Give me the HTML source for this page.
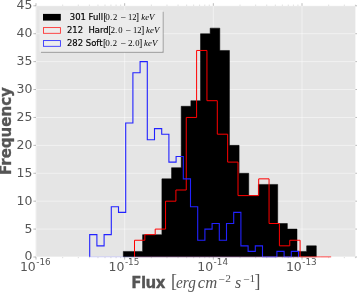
<!DOCTYPE html>
<html lang="en"><head><meta charset="utf-8"><title>Flux histogram</title>
<style>html,body{margin:0;padding:0;background:#fff;}svg{display:block;}text{font-family:"DejaVu Sans","Liberation Sans",sans-serif;}.tk{font-size:12.45px;fill:#555;}.sup{font-size:8.85px;fill:#555;}.lb{font-size:15px;font-weight:bold;fill:#555;stroke:#555;stroke-width:0.3px;}.m{font-family:"Liberation Serif","DejaVu Serif",serif;}.mi{font-family:"Liberation Serif","DejaVu Serif",serif;font-style:italic;}.lg{font-size:8.45px;fill:#000;stroke:#000;stroke-width:0.18px;}</style></head><body>
<svg width="357" height="292" viewBox="0 0 357 292">
<rect x="0" y="0" width="357" height="292" fill="#fff"/>
<rect x="35.6" y="5.8" width="319.8" height="251.2" fill="#e5e5e5"/>
<path d="M36.0,257 H355.4 M36.0,229.09 H355.4 M36.0,201.18 H355.4 M36.0,173.27 H355.4 M36.0,145.36 H355.4 M36.0,117.44 H355.4 M36.0,89.53 H355.4 M36.0,61.62 H355.4 M36.0,33.71 H355.4 M36.0,5.8 H355.4 M36,5.8 V257.0 M124.67,5.8 V257.0 M213.34,5.8 V257.0 M302.01,5.8 V257.0" stroke="#fff" stroke-width="0.65" fill="none" opacity="0.75"/>
<path d="M123.3,257 L123.3,251.42 L132.95,251.42 L132.95,251.42 L142.6,251.42 L142.6,234.67 L152.25,234.67 L152.25,234.67 L161.9,234.67 L161.9,178.85 L171.55,178.85 L171.55,167.68 L181.2,167.68 L181.2,106.28 L190.85,106.28 L190.85,100.7 L200.5,100.7 L200.5,33.71 L210.15,33.71 L210.15,28.13 L219.8,28.13 L219.8,50.46 L229.45,50.46 L229.45,145.36 L239.1,145.36 L239.1,173.27 L248.75,173.27 L248.75,195.6 L258.4,195.6 L258.4,184.43 L268.05,184.43 L268.05,184.43 L277.7,184.43 L277.7,223.51 L287.35,223.51 L287.35,229.09 L297,229.09 L297,251.42 L306.65,251.42 L306.65,245.84 L316.3,245.84 L316.3,257 Z" fill="#000" stroke="#000" stroke-width="0.5"/>
<path d="M134.5,257 L134.5,240.25 L144.85,240.25 L144.85,234.67 L155.2,234.67 L155.2,229.09 L165.55,229.09 L165.55,201.18 L175.9,201.18 L175.9,190.01 L186.25,190.01 L186.25,117.44 L196.6,117.44 L196.6,50.46 L206.95,50.46 L206.95,100.7 L217.3,100.7 L217.3,134.19 L227.65,134.19 L227.65,162.1 L238,162.1 L238,195.6 L248.35,195.6 L248.35,195.6 L258.7,195.6 L258.7,178.85 L269.05,178.85 L269.05,223.51 L279.4,223.51 L279.4,245.84 L289.75,245.84 L289.75,240.25 L300.1,240.25 L300.1,257 L310.45,257 L310.45,257 L320.8,257 L320.8,257 L331.15,257 L331.15,257" fill="none" stroke="#f00" stroke-width="1" stroke-linejoin="miter"/>
<path d="M89.7,257 L89.7,234.67 L96.9,234.67 L96.9,245.84 L104.1,245.84 L104.1,234.67 L111.3,234.67 L111.3,206.76 L118.5,206.76 L118.5,212.34 L125.7,212.34 L125.7,123.03 L132.9,123.03 L132.9,72.79 L140.1,72.79 L140.1,61.62 L147.3,61.62 L147.3,139.77 L154.5,139.77 L154.5,128.61 L161.7,128.61 L161.7,134.19 L168.9,134.19 L168.9,162.1 L176.1,162.1 L176.1,156.52 L183.3,156.52 L183.3,178.85 L190.5,178.85 L190.5,206.76 L197.7,206.76 L197.7,240.25 L204.9,240.25 L204.9,229.09 L212.1,229.09 L212.1,223.51 L219.3,223.51 L219.3,240.25 L226.5,240.25 L226.5,223.51 L233.7,223.51 L233.7,212.34 L240.9,212.34 L240.9,245.84 L248.1,245.84 L248.1,251.42 L255.3,251.42 L255.3,245.84 L262.5,245.84 L262.5,257 L269.7,257 L269.7,257 L276.9,257 L276.9,251.42 L284.1,251.42 L284.1,257 L291.3,257 L291.3,251.42 L298.5,251.42 L298.5,257" fill="none" stroke="#2222ff" stroke-width="1.1" stroke-linejoin="miter"/>
<path d="M89.7,257.0 H298.5" stroke="#00f" stroke-width="0.9" opacity="0.28" fill="none"/>
<path d="M134.5,257.0 H331.15" stroke="#f00" stroke-width="0.9" opacity="0.22" fill="none"/>
<path d="M35.6,257.25 H355.4" fill="none" stroke="#fff" stroke-width="0.9" opacity="0.8"/>
<path d="M33.4,257 H36.0 M355.4,257 h2.2 M33.4,229.09 H36.0 M355.4,229.09 h2.2 M33.4,201.18 H36.0 M355.4,201.18 h2.2 M33.4,173.27 H36.0 M355.4,173.27 h2.2 M33.4,145.36 H36.0 M355.4,145.36 h2.2 M33.4,117.44 H36.0 M355.4,117.44 h2.2 M33.4,89.53 H36.0 M355.4,89.53 h2.2 M33.4,61.62 H36.0 M355.4,61.62 h2.2 M33.4,33.71 H36.0 M355.4,33.71 h2.2 M33.4,5.8 H36.0 M355.4,5.8 h2.2" stroke="#555" stroke-width="0.5" fill="none" opacity="0.8"/>
<path d="M36,257.0 v2.6 M36,5.8 v-2.6 M124.67,257.0 v2.6 M124.67,5.8 v-2.6 M213.34,257.0 v2.6 M213.34,5.8 v-2.6 M302.01,257.0 v2.6 M302.01,5.8 v-2.6" stroke="#555" stroke-width="0.5" fill="none" opacity="0.8"/>
<path d="M62.69,257.0 v1.2 M62.69,5.8 v-1.2 M78.31,257.0 v1.2 M78.31,5.8 v-1.2 M89.38,257.0 v1.2 M89.38,5.8 v-1.2 M97.98,257.0 v1.2 M97.98,5.8 v-1.2 M105,257.0 v1.2 M105,5.8 v-1.2 M110.93,257.0 v1.2 M110.93,5.8 v-1.2 M116.08,257.0 v1.2 M116.08,5.8 v-1.2 M120.61,257.0 v1.2 M120.61,5.8 v-1.2 M151.36,257.0 v1.2 M151.36,5.8 v-1.2 M166.98,257.0 v1.2 M166.98,5.8 v-1.2 M178.05,257.0 v1.2 M178.05,5.8 v-1.2 M186.65,257.0 v1.2 M186.65,5.8 v-1.2 M193.67,257.0 v1.2 M193.67,5.8 v-1.2 M199.6,257.0 v1.2 M199.6,5.8 v-1.2 M204.75,257.0 v1.2 M204.75,5.8 v-1.2 M209.28,257.0 v1.2 M209.28,5.8 v-1.2 M240.03,257.0 v1.2 M240.03,5.8 v-1.2 M255.65,257.0 v1.2 M255.65,5.8 v-1.2 M266.72,257.0 v1.2 M266.72,5.8 v-1.2 M275.32,257.0 v1.2 M275.32,5.8 v-1.2 M282.34,257.0 v1.2 M282.34,5.8 v-1.2 M288.27,257.0 v1.2 M288.27,5.8 v-1.2 M293.42,257.0 v1.2 M293.42,5.8 v-1.2 M297.95,257.0 v1.2 M297.95,5.8 v-1.2 M328.7,257.0 v1.2 M328.7,5.8 v-1.2 M344.32,257.0 v1.2 M344.32,5.8 v-1.2 M355.39,257.0 v1.2 M355.39,5.8 v-1.2" stroke="#555" stroke-width="0.4" fill="none" opacity="0.5"/>
<text class="tk" x="32.3" y="260.45" text-anchor="end">0</text>
<text class="tk" x="32.3" y="232.54" text-anchor="end">5</text>
<text class="tk" x="32.3" y="204.63" text-anchor="end">10</text>
<text class="tk" x="32.3" y="176.72" text-anchor="end">15</text>
<text class="tk" x="32.3" y="148.81" text-anchor="end">20</text>
<text class="tk" x="32.3" y="120.89" text-anchor="end">25</text>
<text class="tk" x="32.3" y="92.98" text-anchor="end">30</text>
<text class="tk" x="32.3" y="65.07" text-anchor="end">35</text>
<text class="tk" x="32.3" y="37.16" text-anchor="end">40</text>
<text class="tk" x="32.3" y="9.25" text-anchor="end">45</text>
<text class="tk" x="19.9" y="271.1">10<tspan class="sup" dx="0.5" dy="-5.7">-16</tspan></text>
<text class="tk" x="108.57" y="271.1">10<tspan class="sup" dx="0.5" dy="-5.7">-15</tspan></text>
<text class="tk" x="197.24" y="271.1">10<tspan class="sup" dx="0.5" dy="-5.7">-14</tspan></text>
<text class="tk" x="285.91" y="271.1">10<tspan class="sup" dx="0.5" dy="-5.7">-13</tspan></text>
<text class="lb" transform="translate(11.3,175) rotate(-90)">Frequency</text>
<text class="lb" x="131.3" y="288.4" textLength="34.1" lengthAdjust="spacing">Flux</text>
<text class="lb m" style="font-weight:normal;font-size:17.8px;stroke:none" x="171.0" y="287.3">[</text>
<text class="lb mi" style="font-weight:normal;font-size:15.8px;stroke:none" x="176" y="288.2" textLength="19.8" lengthAdjust="spacingAndGlyphs">erg</text>
<text class="lb mi" style="font-weight:normal;font-size:15.8px;stroke:none" x="197.8" y="288.2" textLength="19.4" lengthAdjust="spacingAndGlyphs">cm</text>
<text class="m" style="font-size:11.4px;fill:#555" x="218.6" y="282.6">−</text>
<text class="m" style="font-size:11.4px;fill:#555" x="225.2" y="282.3">2</text>
<text class="lb mi" style="font-weight:normal;font-size:15.8px;stroke:none" x="235" y="288.2">s</text>
<text class="m" style="font-size:11.4px;fill:#555" x="243.2" y="282.6">−</text>
<text class="m" style="font-size:11.4px;fill:#555" x="249.4" y="282.3">1</text>
<text class="lb m" style="font-weight:normal;font-size:17.8px;stroke:none" x="254.6" y="287.3">]</text>
<rect x="41.0" y="11.799999999999999" width="122.6" height="41" fill="#8c8c8c" opacity="0.85"/>
<rect x="39.9" y="10.7" width="122.6" height="41" fill="#ececec" stroke="#f2f2f2" stroke-width="0.4"/>
<rect x="43" y="13.9" width="17.8" height="6.7" fill="#000"/>
<rect x="43.5" y="27.6" width="16.9" height="5.7" fill="none" stroke="#ff2a2a" stroke-width="0.85"/>
<rect x="43.5" y="40.6" width="16.9" height="5.7" fill="none" stroke="#2a2aff" stroke-width="0.85"/>
<text class="lg" x="69.8" y="20.1" xml:space="preserve">301 Full</text>
<text class="lg m" style="stroke:none;font-size:9.9px" x="103.4" y="20.1">[</text>
<text class="lg m" style="stroke:none;font-size:9.2px" x="105.3" y="20.1">0.</text>
<text class="lg m" style="stroke:none;font-size:9.2px" x="113.1" y="20.1" textLength="4.3" lengthAdjust="spacingAndGlyphs">2</text>
<text class="lg m" style="stroke:none;font-size:9.2px" x="120.3" y="21.0" textLength="5.6" lengthAdjust="spacingAndGlyphs">−</text>
<text class="lg m" style="stroke:none;font-size:9.2px" x="127.9" y="20.1" textLength="8.5" lengthAdjust="spacingAndGlyphs">12</text>
<text class="lg m" style="stroke:none;font-size:9.9px" x="135.7" y="20.1">]</text>
<text class="lg mi" style="stroke:none;font-size:9.2px" x="141.3" y="20.1" textLength="13.2" lengthAdjust="spacingAndGlyphs">keV</text>
<text class="lg" x="67.0" y="33.2" xml:space="preserve">212  Hard</text>
<text class="lg m" style="stroke:none;font-size:9.9px" x="108.2" y="33.2">[</text>
<text class="lg m" style="stroke:none;font-size:9.2px" x="110.5" y="33.2">2.</text>
<text class="lg m" style="stroke:none;font-size:9.2px" x="118.3" y="33.2" textLength="4.3" lengthAdjust="spacingAndGlyphs">0</text>
<text class="lg m" style="stroke:none;font-size:9.2px" x="125.3" y="34.1" textLength="5.6" lengthAdjust="spacingAndGlyphs">−</text>
<text class="lg m" style="stroke:none;font-size:9.2px" x="133.1" y="33.2" textLength="8.5" lengthAdjust="spacingAndGlyphs">12</text>
<text class="lg m" style="stroke:none;font-size:9.9px" x="140.9" y="33.2">]</text>
<text class="lg mi" style="stroke:none;font-size:9.2px" x="146.10000000000002" y="33.2" textLength="13.2" lengthAdjust="spacingAndGlyphs">keV</text>
<text class="lg" x="67.0" y="46.2" xml:space="preserve">282 Soft</text>
<text class="lg m" style="stroke:none;font-size:9.9px" x="103.0" y="46.2">[</text>
<text class="lg m" style="stroke:none;font-size:9.2px" x="105.3" y="46.2">0.</text>
<text class="lg m" style="stroke:none;font-size:9.2px" x="112.8" y="46.2" textLength="4.3" lengthAdjust="spacingAndGlyphs">2</text>
<text class="lg m" style="stroke:none;font-size:9.2px" x="120.3" y="47.1" textLength="5.6" lengthAdjust="spacingAndGlyphs">−</text>
<text class="lg m" style="stroke:none;font-size:9.2px" x="127.9" y="46.2">2.</text>
<text class="lg m" style="stroke:none;font-size:9.2px" x="135.3" y="46.2" textLength="4.3" lengthAdjust="spacingAndGlyphs">0</text>
<text class="lg m" style="stroke:none;font-size:9.9px" x="139.1" y="46.2">]</text>
<text class="lg mi" style="stroke:none;font-size:9.2px" x="144.10000000000002" y="46.2" textLength="13.2" lengthAdjust="spacingAndGlyphs">keV</text>
</svg></body></html>
